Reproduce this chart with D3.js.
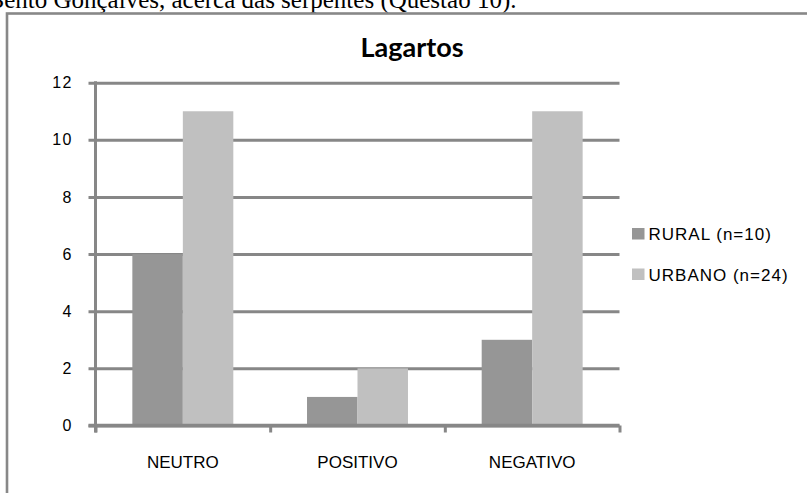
<!DOCTYPE html>
<html>
<head>
<meta charset="utf-8">
<script src="https://cdn.jsdelivr.net/npm/d3@7"></script>
<style>
  html, body { margin: 0; padding: 0; background: #fff; overflow: hidden; }
  svg { display: block; }
</style>
</head>
<body>
<svg id="chart" width="807" height="493"></svg>
<script>
// Attitudes toward lizards, by group
const categories = ["NEUTRO", "POSITIVO", "NEGATIVO"];
const seriesNames = ["RURAL (n=10)", "URBANO (n=24)"];
const ruralValues = [6, 1, 3];
const urbanValues = [11, 2, 11];
const yTicks = [0, 2, 4, 6, 8, 10, 12];
const chartTitle = "Lagartos";
const captionText = "Bento Gonçalves, acerca das serpentes (Questão 10).";

const colors = ["#969696", "#c0c0c0"];
const gridColor = "#878787";

const svg = d3.select("#chart");

// caption line of the surrounding document, cut by the page edge
svg.append("text")
  .attr("x", -12.5)
  .attr("y", 8)
  .attr("font-family", "'Liberation Serif', 'Times New Roman', serif")
  .attr("font-size", 25)
  .attr("fill", "#000")
  .text(captionText);

// chart frame
svg.append("rect")
  .attr("x", 7)
  .attr("y", 13.5)
  .attr("width", 900)
  .attr("height", 600)
  .attr("fill", "none")
  .attr("stroke", "#888")
  .attr("stroke-width", 2.6);

const plotLeft = 95.5, plotRight = 619.5, plotTop = 82.7, plotBottom = 425.5;

const y = d3.scaleLinear().domain([0, 12]).range([plotBottom, plotTop]);
const x0 = d3.scaleBand().domain(categories).range([plotLeft, plotRight]).padding(0);
const x1 = d3.scaleBand().domain(seriesNames).range([0, x0.bandwidth()])
  .paddingInner(0).paddingOuter(0.73);

// gridlines + y labels
const yAxis = d3.axisLeft(y).tickValues(yTicks).tickSize(7).tickPadding(15.5)
  .tickFormat(d3.format("d"));
const gy = svg.append("g").attr("transform", `translate(${plotLeft},0)`).call(yAxis);
gy.select(".domain").remove();
gy.selectAll(".tick line")
  .attr("x1", -7)
  .attr("x2", plotRight - plotLeft)
  .attr("stroke", gridColor)
  .attr("stroke-width", 3);
gy.selectAll(".tick text")
  .attr("font-family", "'Liberation Sans', Arial, sans-serif")
  .attr("font-size", 16)
  .attr("letter-spacing", 1.5)
  .attr("fill", "#000");

// bars
const rows = categories.map((c, i) => ({ cat: c, vals: [ruralValues[i], urbanValues[i]] }));
svg.append("g").selectAll("g")
  .data(rows)
  .join("g")
  .attr("transform", d => `translate(${x0(d.cat)},0)`)
  .selectAll("rect")
  .data(d => d.vals.map((v, j) => ({ key: seriesNames[j], v, j })))
  .join("rect")
  .attr("x", d => x1(d.key))
  .attr("width", x1.bandwidth())
  .attr("y", d => y(d.v))
  .attr("height", d => y(0) - y(d.v))
  .attr("fill", d => colors[d.j]);

// y axis line
svg.append("line")
  .attr("x1", plotLeft).attr("x2", plotLeft)
  .attr("y1", plotTop - 1.5).attr("y2", plotBottom + 7)
  .attr("stroke", gridColor).attr("stroke-width", 3);

// x axis with ticks on category boundaries
const xb = d3.scaleLinear().domain([0, categories.length]).range([plotLeft, plotRight]);
const xAxis = d3.axisBottom(xb).tickValues(d3.range(categories.length + 1))
  .tickSize(7).tickSizeOuter(0).tickFormat("");
const gx = svg.append("g").attr("transform", `translate(0,${plotBottom})`).call(xAxis);
gx.select(".domain")
  .attr("d", `M${plotLeft - 7},0H${plotRight}`)
  .attr("stroke", gridColor).attr("stroke-width", 3.5);
gx.selectAll(".tick line").attr("stroke", gridColor).attr("stroke-width", 3);

// category labels
svg.append("g").selectAll("text")
  .data(categories)
  .join("text")
  .attr("x", d => x0(d) + x0.bandwidth() / 2)
  .attr("y", 468)
  .attr("text-anchor", "middle")
  .attr("font-family", "'Liberation Sans', Arial, sans-serif")
  .attr("font-size", 17)
  .attr("fill", "#000")
  .text(d => d);

// title
svg.append("text")
  .attr("x", 412)
  .attr("y", 57)
  .attr("text-anchor", "middle")
  .attr("font-family", "Lato, 'Open Sans', sans-serif")
  .attr("font-weight", "bold")
  .attr("font-size", 27)
  .attr("fill", "#000")
  .text(chartTitle);

// legend
const legend = svg.append("g").selectAll("g")
  .data(seriesNames)
  .join("g")
  .attr("transform", (d, i) => `translate(632,${228 + i * 40.5})`);
legend.append("rect")
  .attr("width", 12.5).attr("height", 11.5)
  .attr("fill", (d, i) => colors[i]);
legend.append("text")
  .attr("x", 16.5).attr("y", 12)
  .attr("font-family", "'Liberation Sans', Arial, sans-serif")
  .attr("font-size", 17)
  .attr("letter-spacing", 1)
  .attr("fill", "#000")
  .text(d => d);
</script>
</body>
</html>
